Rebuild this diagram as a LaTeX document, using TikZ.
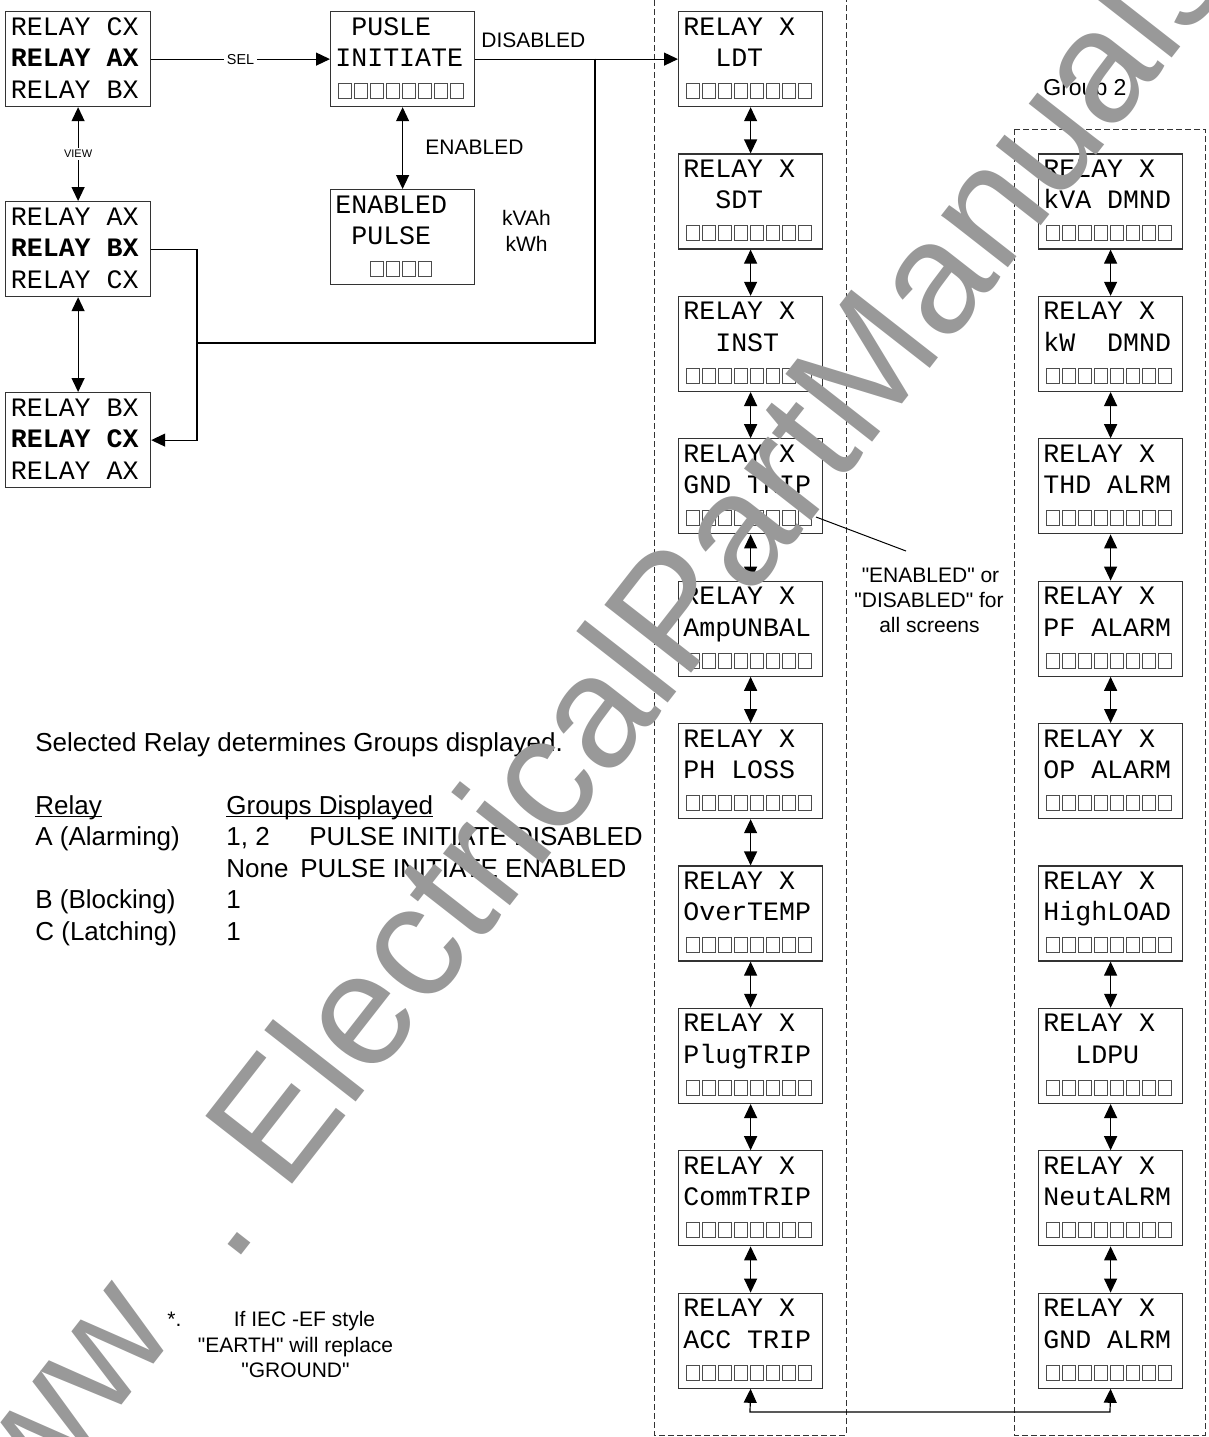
\documentclass[tikz,border=0pt]{standalone}
\usepackage{fontspec}
\setmainfont{Liberation Sans}[Ligatures=TeXOff]
\newfontfamily\monof{Liberation Mono}
\newfontfamily\wmfont{Liberation Sans}
\usetikzlibrary{arrows.meta,calc}

\tikzset{
  box/.style={draw=black!80, line width=0.6pt, inner sep=0pt, minimum width=72pt, minimum height=47.5pt},
  mono/.style={font=\monof\fontsize{13.3}{15}\selectfont, inner sep=0pt, anchor=base west},
  sq/.style={draw=black!70, line width=0.45pt},
  lbl/.style={font=\fontsize{10.5}{12}\selectfont, inner sep=0pt},
  txt/.style={font=\fontsize{13}{15}\selectfont, inner sep=0pt, anchor=base west},
  note/.style={font=\fontsize{10.5}{12}\selectfont, inner sep=0pt, anchor=base},
  arr/.style={line width=0.6pt, -{Triangle[length=7pt,width=6.5pt]}},
  darr/.style={line width=0.6pt, {Triangle[length=7pt,width=6.5pt]}-{Triangle[length=7pt,width=6.5pt]}},
  grp/.style={draw=black!80, line width=0.5pt, dash pattern=on 3pt off 1.5pt},
  wm/.style={font=\wmfont\fontsize{80}{80}\selectfont, text=black!40, inner sep=0pt, rotate=52},
}

% left selection boxes: name, top, line1, line2, line3
\newcommand\lbox[5]{%
  \node[box, minimum width=72.5pt, anchor=north west] (#1) at (5,#2) {};
  \node[mono] (#1-a) at (10.5,{#2+24}) {#3};
  \node[mono] (#1-b) at (10.5,{#2+55.5}) {#4};
  \node[mono] (#1-c) at (10.5,{#2+87}) {#5};
}
% relay screens: name, left, top, line2
\newcommand\gbox[4]{%
  \node[box, anchor=north west] (#1) at (#2,#3) {};
  \node[mono] (#1-a) at ({#2+5},{#3+24}) {RELAY X};
  \node[mono] (#1-b) at ({#2+5},{#3+55.5}) {#4};
  \foreach \k in {0,...,7} \draw[sq] ({#2+8+16.05*\k},{#3+72.5}) rectangle ++(13.5,15);
}

\begin{document}
\begin{tikzpicture}[x=0.5pt,y=-0.5pt]
\useasboundingbox (0,0) rectangle (1209,1437);

% ---- left column
\lbox{ra}{11}{RELAY CX}{\textbf{RELAY AX}}{RELAY BX}
\lbox{rb}{201}{RELAY AX}{\textbf{RELAY BX}}{RELAY CX}
\lbox{rc}{392}{RELAY BX}{\textbf{RELAY CX}}{RELAY AX}

% ---- pulse initiate
\node[box, anchor=north west] (pi) at (330,11) {};
\node[mono] (pi-a) at (335,35) {\phantom{X}PUSLE};
\node[mono] (pi-b) at (335,66.5) {INITIATE};
\foreach \k in {0,...,7} \draw[sq] ({338+16.05*\k},83.5) rectangle ++(13.5,15);

\node[box, anchor=north west] (en) at (330,189) {};
\node[mono] (en-a) at (335,213) {ENABLED};
\node[mono] (en-b) at (335,244.5) {\phantom{X}PULSE};
\foreach \k in {0,...,3} \draw[sq] ({370+16.05*\k},261.5) rectangle ++(13.5,15);

% ---- group boxes (dashed)
\draw[grp] (654,0) -- (654,1435) -- (846,1435) -- (846,0);
\draw[grp] (1014,129) rectangle (1205,1435);
\node[font=\fontsize{11.5}{13}\selectfont, inner sep=0pt, anchor=base west] (grp2) at (1043,95) {Group 2};

% ---- group 1 screens
\gbox{g1a}{678}{11}{\phantom{XX}LDT}
\gbox{g1b}{678}{153.4}{\phantom{XX}SDT}
\gbox{g1c}{678}{295.8}{\phantom{XX}INST}
\gbox{g1d}{678}{438.2}{GND TRIP}
\gbox{g1e}{678}{580.6}{AmpUNBAL}
\gbox{g1f}{678}{723}{PH LOSS}
\gbox{g1g}{678}{865.4}{OverTEMP}
\gbox{g1h}{678}{1007.8}{PlugTRIP}
\gbox{g1i}{678}{1150.2}{CommTRIP}
\gbox{g1j}{678}{1292.6}{ACC TRIP}

% ---- group 2 screens
\gbox{g2b}{1038}{153.4}{kVA DMND}
\gbox{g2c}{1038}{295.8}{kW\phantom{XX}DMND}
\gbox{g2d}{1038}{438.2}{THD ALRM}
\gbox{g2e}{1038}{580.6}{PF ALARM}
\gbox{g2f}{1038}{723}{OP ALARM}
\gbox{g2g}{1038}{865.4}{HighLOAD}
\gbox{g2h}{1038}{1007.8}{\phantom{XX}LDPU}
\gbox{g2i}{1038}{1150.2}{NeutALRM}
\gbox{g2j}{1038}{1292.6}{GND ALRM}

% ---- connectors
\draw[arr] (ra.east) -- node[fill=white, inner sep=1.5pt, font=\fontsize{7.2}{8}\selectfont] (sel) {SEL} (pi.west);
\draw[darr] (ra.south) -- node[fill=white, inner sep=1.2pt, font=\fontsize{5.5}{6}\selectfont] (view) {VIEW} (rb.north);
\draw[darr] (rb.south) -- (rc.north);
\draw[darr] (pi.south) -- (en.north);
\draw[arr] (pi.east) -- (g1a.west);

\coordinate (j1) at (595,58.5);
\coordinate (j2) at (595,343);
\coordinate (j3) at (197,343);
\draw[line width=0.6pt] (j1) -- (j2) -- (j3);
\draw[arr] (rb.east) -| (j3) |- (rc.east);

\foreach \u/\v in {g1a/g1b,g1b/g1c,g1c/g1d,g1d/g1e,g1e/g1f,g1f/g1g,g1g/g1h,g1h/g1i,g1i/g1j,
                   g2b/g2c,g2c/g2d,g2d/g2e,g2e/g2f,g2g/g2h,g2h/g2i,g2i/g2j}
  \draw[darr] (\u.south) -- (\v.north);

\coordinate (b1) at (750,1412);
\coordinate (b2) at (1110,1412);
\draw[darr] (g1j.south) -- (b1) -- (b2) -- (g2j.south);

% ---- labels
\node[lbl, anchor=base west] (dis) at (481,47) {DISABLED};
\node[lbl, anchor=base west] (ena) at (425,154) {ENABLED};
\node[lbl, anchor=base] (kvah) at (526.5,225) {kVAh};
\node[lbl, anchor=base] (kwh) at (526.5,251) {kWh};

\coordinate (c1) at (816,517);
\coordinate (c2) at (906,551);
\draw[line width=0.5pt] (c1) -- (c2);
\node[lbl, anchor=base] (cl1) at (930.5,582) {"ENABLED" or};
\node[lbl, anchor=base] (cl2) at (929,607) {"DISABLED" for};
\node[lbl, anchor=base] (cl3) at (929.5,632) {all screens};

% ---- table
\node[txt] (sent) at (35,751) {Selected Relay determines Groups displayed.};
\node[txt] (hrel) at (35,814) {Relay};
\node[txt] (hgrp) at (226,814) {Groups Displayed};
\draw[line width=0.6pt] ($(hrel.base west)+(0,2.5)$) -- ($(hrel.base east)+(0,2.5)$);
\draw[line width=0.6pt] ($(hgrp.base west)+(0,2.5)$) -- ($(hgrp.base east)+(0,2.5)$);
\node[txt] (ta1) at (35,845.5) {A (Alarming)};
\node[txt] (ta2) at (226,845.5) {1, 2};
\node[txt] (ta3) at (309,845.5) {PULSE INITIATE DISABLED};
\node[txt] (tn2) at (226,877) {None};
\node[txt] (tn3) at (300,877) {PULSE INITIATE ENABLED};
\node[txt] (tb1) at (35,908.5) {B (Blocking)};
\node[txt] (tb2) at (226,908.5) {1};
\node[txt] (tc1) at (35,940) {C (Latching)};
\node[txt] (tc2) at (226,940) {1};

% ---- footnote
\node[note, anchor=base west] (star) at (167,1326) {*.};
\node[note] (n1) at (304.5,1326) {If IEC -EF style};
\node[note] (n2) at (295.5,1352) {"EARTH" will replace};
\node[note] (n3) at (295.5,1377) {"GROUND"};

% ---- watermark
\node[wm, anchor=base east] (wm1) at (179,1332) {www};
\node[wm, anchor=base west] (wm2) at (232,1267) {.};
\node[wm, anchor=base west] (wm3) at (284,1195) {ElectricalPartManuals};
\end{tikzpicture}
\end{document}
